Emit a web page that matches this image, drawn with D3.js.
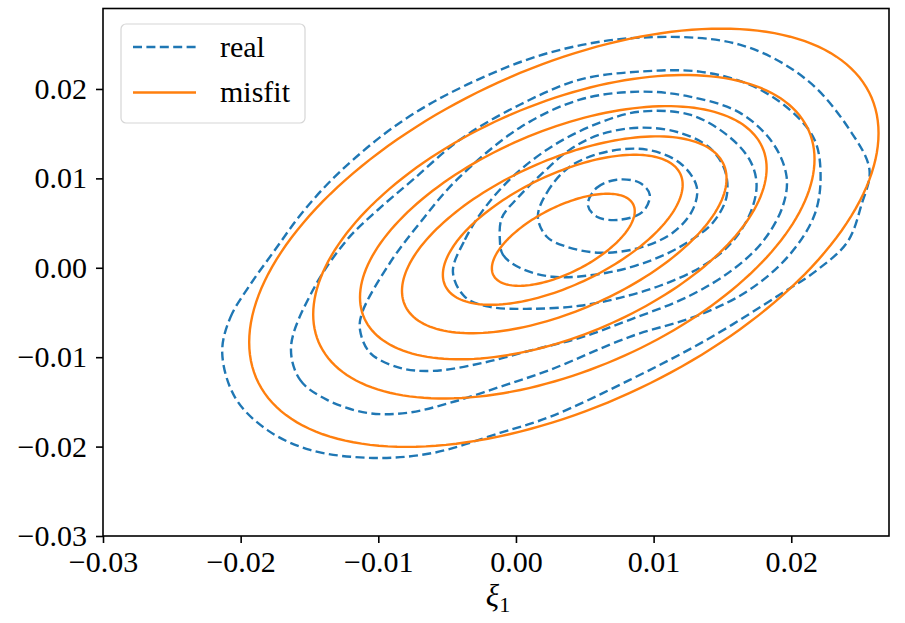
<!DOCTYPE html>
<html>
<head>
<meta charset="utf-8">
<script src="https://cdn.jsdelivr.net/npm/d3@7"></script>
<style>
  body { margin: 0; background: #fff; }
  svg text { font-family: "Liberation Serif", "DejaVu Serif", serif; }
</style>
</head>
<body>
<div id="chart"></div>
<script>
// axis ticks
const xTicks = [-0.03, -0.02, -0.01, 0.00, 0.01, 0.02];
const yTicks = [-0.03, -0.02, -0.01, 0.00, 0.01, 0.02];
const xDomain = [-0.03, 0.0271];
const yDomain = [-0.03, 0.0290];

// legend
const seriesNames = ["real", "misfit"];

// misfit contours: centre, x/y half-extent and correlation
const misfitCx  = [0.00344, 0.00340, 0.00351, 0.00344, 0.00348, 0.00348];
const misfitCy  = [0.00313, 0.00425, 0.00369, 0.00392, 0.00347, 0.00336];
const misfitSx  = [0.00519, 0.00871, 0.01179, 0.01477, 0.01821, 0.02286];
const misfitSy  = [0.00515, 0.00839, 0.01101, 0.01416, 0.01809, 0.02339];
const misfitRho = [0.62, 0.60, 0.57, 0.51, 0.48, 0.50];

// real contours: traced points, innermost first
const real1 = [[0.00522,0.00705],[0.00587,0.00895],[0.00732,0.00985],[0.00899,0.00951],[0.00972,0.00817],
  [0.00921,0.00627],[0.00754,0.00537],[0.00587,0.00571]];
const real2 = [[0.00159,0.00571],[0.00224,0.00839],[0.00391,0.01131],[0.00660,0.01298],[0.00950,0.01321],
  [0.01189,0.01175],[0.01313,0.00907],[0.01284,0.00649],[0.01139,0.00392],[0.00899,0.00224],
  [0.00609,0.00168],[0.00369,0.00235],[0.00224,0.00347]];
const real3 = [[-0.00117,0.00313],[-0.00095,0.00146],[0.00028,0.00000],[0.00268,-0.00101],[0.00660,-0.00056],
  [0.00994,0.00090],[0.01241,0.00280],[0.01430,0.00504],[0.01530,0.00795],[0.01516,0.01097],
  [0.01407,0.01343],[0.01189,0.01511],[0.00899,0.01567],[0.00609,0.01489],[0.00391,0.01321],
  [0.00196,0.01063],[0.00014,0.00784],[-0.00102,0.00560]];
const real4 = [[-0.00458,-0.00045],[-0.00371,0.00313],[-0.00226,0.00672],[-0.00008,0.01041],[0.00282,0.01377],
  [0.00609,0.01623],[0.00899,0.01746],[0.01262,0.01713],[0.01530,0.01489],[0.01697,0.01209],
  [0.01748,0.00929],[0.01697,0.00593],[0.01552,0.00257],[0.01335,0.00000],[0.01045,-0.00201],
  [0.00754,-0.00336],[0.00464,-0.00425],[0.00101,-0.00459],[-0.00189,-0.00437],[-0.00371,-0.00325]];
const real5 = [[-0.01133,-0.00694],[-0.01060,-0.00951],[-0.00843,-0.01119],[-0.00603,-0.01153],[-0.00240,-0.01063],
  [0.00123,-0.00918],[0.00464,-0.00784],[0.00827,-0.00582],[0.01262,-0.00313],[0.01574,-0.00022],
  [0.01792,0.00291],[0.01937,0.00683],[0.01966,0.01019],[0.01864,0.01399],[0.01625,0.01735],
  [0.01262,0.01914],[0.00899,0.01970],[0.00464,0.01880],[0.00028,0.01567],[-0.00429,0.00985],
  [-0.00697,0.00504],[-0.00915,0.00056],[-0.01118,-0.00504]];
const real6 = [[-0.01634,-0.00884],[-0.01568,-0.01254],[-0.01372,-0.01477],[-0.01082,-0.01623],[-0.00792,-0.01623],
  [-0.00480,-0.01511],[-0.00117,-0.01332],[0.00246,-0.01142],[0.00827,-0.00772],[0.01335,-0.00526],
  [0.01697,-0.00246],[0.01988,0.00146],[0.02169,0.00593],[0.02213,0.01019],[0.02169,0.01433],
  [0.01988,0.01769],[0.01697,0.02048],[0.01335,0.02194],[0.00899,0.02194],[0.00464,0.02104],
  [0.00028,0.01824],[-0.00407,0.01433],[-0.00748,0.00985],[-0.01002,0.00649],[-0.01227,0.00313],
  [-0.01474,-0.00246]];
const real7 = [[-0.02134,-0.00951],[-0.02076,-0.00560],[-0.01931,-0.00190],[-0.01750,0.00201],[-0.01547,0.00627],
  [-0.01278,0.01075],[-0.00843,0.01623],[-0.00356,0.02048],[0.00246,0.02407],[0.00899,0.02574],
  [0.01625,0.02496],[0.02111,0.02104],[0.02423,0.01545],[0.02568,0.01097],[0.02510,0.00705],
  [0.02409,0.00291],[0.02191,-0.00022],[0.01915,-0.00302],[0.01385,-0.00806],[0.00827,-0.01254],
  [0.00246,-0.01668],[-0.00117,-0.01847],[-0.00603,-0.02071],[-0.01038,-0.02127],[-0.01496,-0.02037],
  [-0.01808,-0.01813],[-0.02039,-0.01455]];
const realContours = [real1, real2, real3, real4, real5, real6, real7];

const blue = "#1f77b4", orange = "#ff7f0e";
const lineW = 2.4, dash = "9,4.4";
const width = 905, height = 623;
const margin = {top: 8.5, right: 16, bottom: 87, left: 103};

const svg = d3.select("#chart").append("svg")
    .attr("width", width)
    .attr("height", height);

const x = d3.scaleLinear().domain(xDomain).range([margin.left, width - margin.right]);
const y = d3.scaleLinear().domain(yDomain).range([height - margin.bottom, margin.top]);

svg.append("clipPath").attr("id", "plot-clip")
  .append("rect")
    .attr("x", margin.left).attr("y", margin.top)
    .attr("width", x.range()[1] - x.range()[0])
    .attr("height", y.range()[0] - y.range()[1]);

const plot = svg.append("g").attr("clip-path", "url(#plot-clip)");

// real contours (dashed), smooth closed curves through traced points
const closedLine = d3.line()
    .x(d => x(d[0]))
    .y(d => y(d[1]))
    .curve(d3.curveCatmullRomClosed.alpha(0.5));

plot.append("g")
  .selectAll("path")
  .data(realContours)
  .join("path")
    .attr("d", closedLine)
    .attr("fill", "none")
    .attr("stroke", blue)
    .attr("stroke-width", lineW)
    .attr("stroke-dasharray", dash);

// misfit contours (solid ellipses)
const misfit = misfitCx.map((cx, i) => ({
  cx, cy: misfitCy[i], sx: misfitSx[i], sy: misfitSy[i], rho: misfitRho[i]
}));
function ellipsePts(e) {
  const k = Math.sqrt(1 - e.rho * e.rho);
  return d3.range(0, 2 * Math.PI, Math.PI / 90).map(t =>
    [e.cx + e.sx * Math.cos(t), e.cy + e.sy * (e.rho * Math.cos(t) + k * Math.sin(t))]);
}
const ellLine = d3.line().x(d => x(d[0])).y(d => y(d[1])).curve(d3.curveLinearClosed);

plot.append("g")
  .selectAll("path")
  .data(misfit)
  .join("path")
    .attr("d", d => ellLine(ellipsePts(d)))
    .attr("fill", "none")
    .attr("stroke", orange)
    .attr("stroke-width", lineW);

// axes
const fmt = d3.format(".2f");
const xAxis = svg.append("g")
    .attr("transform", `translate(0,${height - margin.bottom})`)
    .call(d3.axisBottom(x).tickValues(xTicks).tickFormat(fmt).tickSize(7).tickPadding(8).tickSizeOuter(0));
const yAxis = svg.append("g")
    .attr("transform", `translate(${margin.left},0)`)
    .call(d3.axisLeft(y).tickValues(yTicks).tickFormat(fmt).tickSize(7).tickPadding(9).tickSizeOuter(0));

[xAxis, yAxis].forEach(g => {
  g.select(".domain").remove();
  g.selectAll(".tick line").attr("stroke", "#000").attr("stroke-width", 1.6);
  g.selectAll(".tick text")
    .attr("fill", "#000")
    .style("font-size", "30px")
    .style("font-family", '"Liberation Serif", serif');
});

// frame
svg.append("rect")
    .attr("x", margin.left).attr("y", margin.top)
    .attr("width", x.range()[1] - x.range()[0])
    .attr("height", y.range()[0] - y.range()[1])
    .attr("fill", "none")
    .attr("stroke", "#000")
    .attr("stroke-width", 1.6);

// x label
const xl = svg.append("text")
    .attr("x", (x.range()[0] + x.range()[1]) / 2 + 2)
    .attr("y", 606)
    .attr("text-anchor", "middle")
    .style("font-size", "31px");
xl.append("tspan").style("font-style", "italic").text("ξ");
xl.append("tspan").attr("dy", 6).style("font-size", "22px").text("1");

// legend
const legend = svg.append("g");
legend.append("rect")
    .attr("x", 121).attr("y", 24)
    .attr("width", 184).attr("height", 99)
    .attr("rx", 5)
    .attr("fill", "#fff").attr("fill-opacity", 0.8)
    .attr("stroke", "#d6d6d6").attr("stroke-width", 1.2);

const items = legend.selectAll("g.item")
  .data(seriesNames)
  .join("g")
    .attr("class", "item")
    .attr("transform", (d, i) => `translate(0,${47 + i * 45.5})`);
items.append("line")
    .attr("x1", 133).attr("x2", 196)
    .attr("stroke", (d, i) => i === 0 ? blue : orange)
    .attr("stroke-width", lineW)
    .attr("stroke-dasharray", (d, i) => i === 0 ? dash : null);
items.append("text")
    .attr("x", 220)
    .attr("dy", "0.32em")
    .style("font-size", "30px")
    .text(d => d);
</script>
</body>
</html>
